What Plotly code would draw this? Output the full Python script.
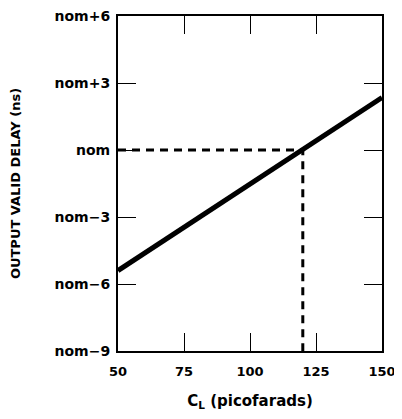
import plotly.graph_objects as go

# data
cl_pf = [50, 150]                 # load capacitance (pF)
delay_ns = [-5.4, 2.35]           # delay relative to nominal (ns)
ref_cl = 120                      # nominal load point
ref_delay = 0

y_ticks = [-9, -6, -3, 0, 3, 6]
y_labels = ["nom−9", "nom−6", "nom−3", "nom", "nom+3", "nom+6"]
x_ticks = [50, 75, 100, 125, 150]

FONT = "DejaVu Sans"

fig = go.Figure()

# dashed guide lines to the nominal point
fig.add_trace(go.Scatter(
    x=[cl_pf[0], ref_cl, ref_cl], y=[ref_delay, ref_delay, y_ticks[0]],
    mode="lines",
    line=dict(color="black", width=3, dash="8px,6px"),
    hoverinfo="skip",
))

# delay vs load line
fig.add_trace(go.Scatter(
    x=cl_pf, y=delay_ns,
    mode="lines",
    line=dict(color="black", width=5),
))

axis_common = dict(
    showgrid=False, zeroline=False,
    showline=True, linecolor="black", linewidth=2,
    mirror="ticks", ticks="inside", ticklen=18, tickwidth=1, tickcolor="black",
    ticklabeloverflow="allow", automargin=False,
)

fig.update_xaxes(
    range=[50, 150], tickvals=x_ticks,
    tickfont=dict(family=FONT, size=13, color="black", weight="bold"),
    ticklabelstandoff=7,
    title=dict(text="C<sub>L</sub> (picofarads)",
               font=dict(family=FONT, size=15, color="black", weight="bold"),
               standoff=20),
    **axis_common,
)
fig.update_yaxes(
    range=[-9, 6], tickvals=y_ticks, ticktext=y_labels,
    tickfont=dict(family=FONT, size=14, color="black", weight="bold"),
    ticklabelstandoff=3,
    title=dict(text="OUTPUT VALID DELAY (ns)",
               font=dict(family=FONT, size=13, color="black", weight="bold"),
               standoff=34),
    **axis_common,
)

# page body has an 8px margin, so shift the figure up/left by that much
fig.update_layout(
    width=394, height=403,
    margin=dict(l=110, r=20, t=8, b=60),
    plot_bgcolor="white", paper_bgcolor="white",
    showlegend=False,
    font=dict(family=FONT, color="black"),
)

fig.write_html("out.html")
